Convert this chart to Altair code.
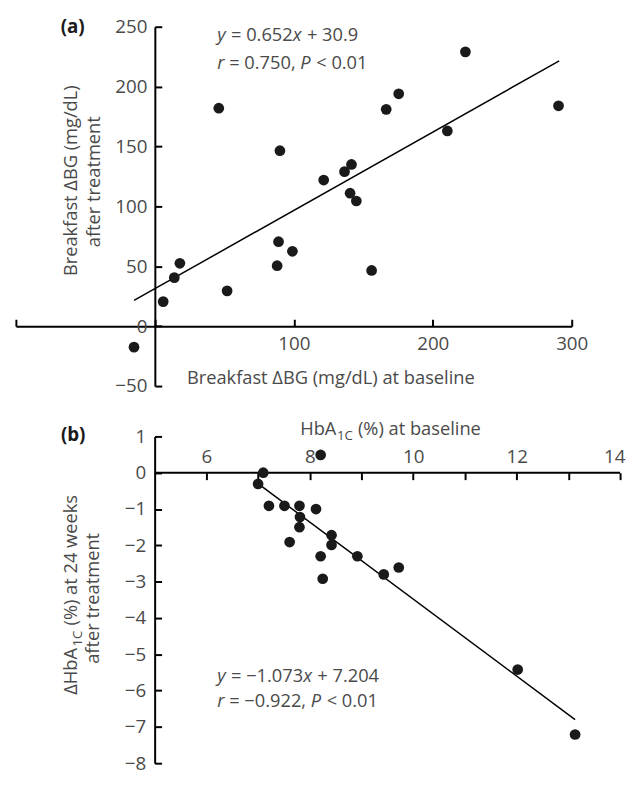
import altair as alt
import pandas as pd

# ---------------- data ----------------
# (a) breakfast delta BG: baseline vs after treatment (mg/dL)
a_base = [-15, 6, 14, 18, 52, 88, 89, 99, 46, 90, 121.5, 136.5, 141.5,
          140.5, 145, 156, 166.5, 175.5, 210.5, 223.5, 290.5]
a_after = [-17.5, 20.5, 40.5, 52.5, 29.5, 50.5, 70.5, 62.5, 182, 146.5, 122,
           129, 135, 111, 104.5, 46.5, 181, 194, 163, 229, 184]
a_fit_x = [-15, 291]
a_fit_y = [21.5, 221.5]

# (b) HbA1c at baseline vs change at 24 weeks (%)
b_base = [7.10, 7.00, 7.21, 7.51, 7.80, 7.81, 7.80, 7.61, 8.12, 8.21, 8.42,
          8.42, 8.21, 8.92, 9.43, 9.72, 8.25, 12.02, 13.13]
b_delta = [0.0, -0.31, -0.91, -0.91, -0.91, -1.22, -1.50, -1.91, -1.0, 0.49,
           -1.72, -1.99, -2.30, -2.30, -2.80, -2.61, -2.92, -5.42, -7.21]
b_fit_x = [7.0, 13.13]
b_fit_y = [-0.30, -6.80]

# axis tick values / labels
a_y_values = [-50, 0, 50, 100, 150, 200, 250]
a_x_labels = [100, 200, 300]
a_x_ticks = [-100, 0, 100, 200, 300]
b_y_values = [-8, -7, -6, -5, -4, -3, -2, -1, 0, 1]
b_x_labels = [6, 8, 10, 12, 14]
b_x_ticks = [6, 7, 8, 9, 10, 11, 12, 13, 14]
b_x_axis_span = [5, 14]

# ---------------- styling / geometry ----------------
FONT = "Open Sans"
GRAY = "#4a4a4a"
INK = "#1a1a1a"
FS = 18.5
LFS = 19
SUB = 13.5

A_W, A_H = 563, 364
A_XD, A_YD = [-100, 300], [-50, 250]
B_W, B_H = 612, 331
B_XD, B_YD = [2.317, 14], [-8, 1]
GAP = 51
A_LEFT, A_TOP = 16, 22
B_LEFT, B_TOP = 16, A_TOP + A_H + GAP
CANVAS_W, CANVAS_H = 627, 767

# reference-picture pixel positions of annotations are mapped into data units
REF_A_TOP, REF_A_H = 25, 364
REF_B_TOP, REF_B_H = 442, 339


def a_at(px, py):
    fy = (py - REF_A_TOP) / REF_A_H
    return (A_XD[0] + (px - A_LEFT) * (A_XD[1] - A_XD[0]) / A_W,
            A_YD[1] - fy * (A_YD[1] - A_YD[0]))


def b_at(px, py):
    fy = (py - REF_B_TOP) / REF_B_H
    return (B_XD[0] + (px - B_LEFT) * (B_XD[1] - B_XD[0]) / B_W,
            B_YD[1] - fy * (B_YD[1] - B_YD[0]))


xs_a = alt.Scale(domain=A_XD, nice=False, zero=False)
ys_a = alt.Scale(domain=A_YD, nice=False, zero=False)
xs_b = alt.Scale(domain=B_XD, nice=False, zero=False)
ys_b = alt.Scale(domain=B_YD, nice=False, zero=False)


def lab_axis(orient, offset, values, pad, **kw):
    opts = dict(orient=orient, offset=offset, values=values, ticks=False,
                tickSize=0, domain=False, labelPadding=pad, labelFont=FONT,
                labelFontSize=LFS, labelColor=GRAY, grid=False, title=None,
                labelFlush=False, labelOverlap=False)
    opts.update(kw)
    return alt.Axis(**opts)


def tick_axis(orient, offset, values, domain=True):
    return alt.Axis(orient=orient, offset=offset, values=values, ticks=True,
                    tickSize=7, tickWidth=2, tickColor="black", labels=False,
                    domain=domain, domainWidth=2, domainColor="black",
                    grid=False, title=None)


def text_layer(xs, ys, x, y, text, **kw):
    props = dict(font=FONT, fontSize=FS, color=GRAY, align="left",
                 baseline="middle")
    props.update(kw)
    df = pd.DataFrame({"x": [x], "y": [y], "t": [text]})
    return alt.Chart(df).mark_text(**props).encode(
        x=alt.X("x:Q", scale=xs, axis=None),
        y=alt.Y("y:Q", scale=ys, axis=None),
        text="t:N")


REG = {c: 0.572 for c in "0123456789=+<−"}
REG.update({".": 0.266, ",": 0.25, " ": 0.26})
ITA = {"y": 0.49, "x": 0.51, "r": 0.39, "P": 0.61}


def seg_width(s, ital):
    table = ITA if ital else REG
    return sum(table.get(c, 0.57) for c in s)


def equation(xs, ys, x, y, segs, size=FS):
    layers = []
    off = 0.0
    for s, ital, gap in segs:
        layers.append(text_layer(xs, ys, x, y, s, fontSize=size, dx=off * size,
                                 fontStyle="italic" if ital else "normal"))
        off += seg_width(s, ital) + gap
    return layers


# ---------------- panel (a) ----------------
a_x0 = A_W * (0 - A_XD[0]) / (A_XD[1] - A_XD[0])
a_y0 = A_H * (0 - A_YD[0]) / (A_YD[1] - A_YD[0])

df_a = pd.DataFrame({"x": a_base, "y": a_after})
df_a_fit = pd.DataFrame({"x": a_fit_x, "y": a_fit_y})

a_fit = alt.Chart(df_a_fit).mark_line(color="black", strokeWidth=1.5).encode(
    x=alt.X("x:Q", scale=xs_a, axis=tick_axis("top", -(A_H - a_y0), a_x_ticks)),
    y=alt.Y("y:Q", scale=ys_a, axis=tick_axis("right", -(A_W - a_x0), a_y_values)))
a_pts = alt.Chart(df_a).mark_circle(size=118, color=INK, opacity=1).encode(
    x=alt.X("x:Q", scale=xs_a, axis=lab_axis("bottom", -a_y0, a_x_labels, 9)),
    y=alt.Y("y:Q", scale=ys_a, axis=lab_axis("left", -a_x0, a_y_values, 8)))

a_texts = []
a_texts.append(text_layer(xs_a, ys_a, *a_at(73.5, 25), "(a)", align="center",
                          fontWeight="bold", fontSize=19, color=INK))
a_texts += equation(xs_a, ys_a, *a_at(220, 33),
                    [("y", 1, 0.26), ("= 0.652", 0, 0), ("x", 1, 0.26), ("+ 30.9", 0, 0)])
a_texts += equation(xs_a, ys_a, *a_at(220, 62),
                    [("r", 1, 0.26), ("= 0.750,", 0, 0.26), ("P", 1, 0.26), ("< 0.01", 0, 0)])
a_texts.append(text_layer(xs_a, ys_a, *a_at(335, 381),
                          "Breakfast ΔBG (mg/dL) at baseline", align="center"))
a_texts.append(text_layer(xs_a, ys_a, *a_at(78, 181), "Breakfast ΔBG (mg/dL)",
                          angle=270, align="center", baseline="alphabetic"))
a_texts.append(text_layer(xs_a, ys_a, *a_at(101, 182), "after treatment",
                          angle=270, align="center", baseline="alphabetic"))

panel_a = alt.layer(a_fit, a_pts, *a_texts).resolve_axis(
    x="independent", y="independent").properties(width=A_W, height=A_H)

# ---------------- panel (b) ----------------
b_x5 = B_W * (5 - B_XD[0]) / (B_XD[1] - B_XD[0])
b_y0 = B_H * (B_YD[1] - 0) / (B_YD[1] - B_YD[0])

df_b = pd.DataFrame({"x": b_base, "y": b_delta})
df_b_fit = pd.DataFrame({"x": b_fit_x, "y": b_fit_y})
df_b_axis = pd.DataFrame({"x": [b_x_axis_span[0]], "x2": [b_x_axis_span[1]], "y": [0]})

b_axisline = alt.Chart(df_b_axis).mark_rule(color="black", strokeWidth=2).encode(
    x=alt.X("x:Q", scale=xs_b, axis=None), x2="x2:Q",
    y=alt.Y("y:Q", scale=ys_b, axis=None))
b_fit = alt.Chart(df_b_fit).mark_line(color="black", strokeWidth=1.5).encode(
    x=alt.X("x:Q", scale=xs_b, axis=tick_axis("bottom", -(B_H - b_y0), b_x_ticks, domain=False)),
    y=alt.Y("y:Q", scale=ys_b, axis=tick_axis("right", -(B_W - b_x5), b_y_values)))
b_pts = alt.Chart(df_b).mark_circle(size=118, color=INK, opacity=1).encode(
    x=alt.X("x:Q", scale=xs_b, axis=lab_axis("top", -b_y0, b_x_labels, 6,
                                             labelFlush=True, labelFlushOffset=5)),
    y=alt.Y("y:Q", scale=ys_b, axis=lab_axis("left", -b_x5, b_y_values, 9)))

b_texts = []
b_texts.append(text_layer(xs_b, ys_b, *b_at(74, 441), "(b)", align="center",
                          fontWeight="bold", fontSize=19, color=INK))
# x title with subscript
hx, hy = b_at(304, 441)
w_hba = (0.738 + 0.613 + 0.633) * FS
w_sub = (0.572 + 0.631) * SUB
b_texts.append(text_layer(xs_b, ys_b, hx, hy, "HbA", baseline="alphabetic"))
b_texts.append(text_layer(xs_b, ys_b, hx, hy, "1C", baseline="alphabetic",
                          fontSize=SUB, dx=w_hba + 0.5, dy=5))
b_texts.append(text_layer(xs_b, ys_b, hx, hy, "(%) at baseline", baseline="alphabetic",
                          dx=w_hba + w_sub + 0.3 * FS))
# y title (rotated) with subscript
vx, vy = b_at(78, 710)
w_dhba = (0.63 + 0.738 + 0.613 + 0.633) * FS
b_texts.append(text_layer(xs_b, ys_b, vx, vy, "ΔHbA", angle=270, baseline="alphabetic"))
b_texts.append(text_layer(xs_b, ys_b, vx, vy, "1C", angle=270, baseline="alphabetic",
                          fontSize=SUB, dx=w_dhba + 0.5, dy=5))
b_texts.append(text_layer(xs_b, ys_b, vx, vy, "(%) at 24 weeks", angle=270,
                          baseline="alphabetic", dx=w_dhba + w_sub + 0.3 * FS))
b_texts.append(text_layer(xs_b, ys_b, *b_at(100, 610), "after treatment",
                          angle=270, align="center", baseline="alphabetic"))
# equations
b_texts += equation(xs_b, ys_b, *b_at(220, 691),
                    [("y", 1, 0.26), ("= −1.073", 0, 0), ("x", 1, 0.26), ("+ 7.204", 0, 0)])
b_texts += equation(xs_b, ys_b, *b_at(220, 717),
                    [("r", 1, 0.26), ("= −0.922,", 0, 0.26), ("P", 1, 0.26), ("< 0.01", 0, 0)])

panel_b = alt.layer(b_axisline, b_fit, b_pts, *b_texts).resolve_axis(
    x="independent", y="independent").properties(width=B_W, height=B_H)

# fixed-size canvas whose origin sits on panel (a)'s plot corner
pad_left, pad_top = A_LEFT - 8, A_TOP - 8
chart = alt.vconcat(panel_a, panel_b, spacing=GAP, bounds="flush").properties(
    autosize=alt.AutoSizeParams(type="none"),
    padding={"left": pad_left, "top": pad_top,
             "right": CANVAS_W - pad_left, "bottom": CANVAS_H - pad_top},
    background="white",
).configure_view(stroke=None)

chart.save("out.html", embed_options={"renderer": "svg", "actions": False})
